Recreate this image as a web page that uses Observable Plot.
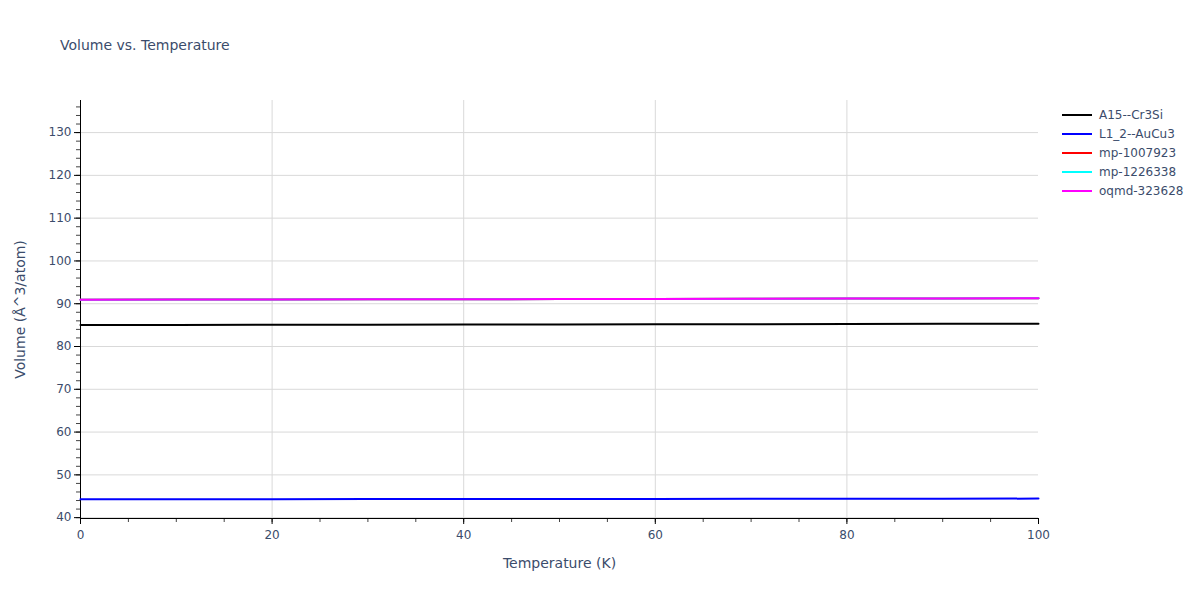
<!DOCTYPE html>
<html><head><meta charset="utf-8">
<script src="https://cdn.jsdelivr.net/npm/d3@7"></script>
<script src="https://cdn.jsdelivr.net/npm/@observablehq/plot@0.6"></script>
<style>
body{margin:0;background:#fff;font-family:"DejaVu Sans",verdana,arial,sans-serif;}
#wrap{position:relative;width:1200px;height:600px;}
#title{position:absolute;left:60px;top:37px;font-size:14px;color:#3b4c6b;}
#legend{position:absolute;left:1062px;top:105px;font-size:12px;color:#3b4c6b;}
.li{height:19px;display:flex;align-items:center;}
.sw{width:30px;height:2px;margin-right:7px;}
</style></head><body>
<div id="wrap"><div id="title">Volume vs. Temperature</div><div id="legend"></div><div id="chart"></div></div>
<script>
const temps = [0,10,20,30,40,50,60,70,80,90,100];
const seriesNames = ["A15--Cr3Si","L1_2--AuCu3","mp-1007923","mp-1226338","oqmd-323628"];
const seriesColors = ["#000000","#0000ff","#ff0000","#00ffff","#ff00ff"];
const a15 = [85.02,85.04,85.07,85.1,85.13,85.16,85.19,85.22,85.26,85.3,85.34];
const l12 = [44.30,44.31,44.32,44.33,44.35,44.36,44.38,44.39,44.41,44.43,44.45];
const mp1007923 = [90.95,90.97,91.0,91.03,91.06,91.09,91.12,91.16,91.2,91.24,91.28];
const mp1226338 = [90.95,90.97,91.0,91.03,91.06,91.09,91.12,91.16,91.2,91.24,91.28];
const oqmd = [90.95,90.97,91.0,91.03,91.06,91.09,91.12,91.16,91.2,91.24,91.28];
const yMajor = [40,50,60,70,80,90,100,110,120,130];
const yMinor = d3.range(40,138,2);
const xMajor = [0,20,40,60,80,100];
const xMinor = d3.range(0,101,5);

const all = [a15,l12,mp1007923,mp1226338,oqmd];
const rows = [];
all.forEach((vals,i)=>vals.forEach((v,j)=>rows.push({T:temps[j],V:v,s:seriesNames[i]})));

const tc = "#3b4c6b";
const plot = Plot.plot({
  width:1200, height:600,
  marginLeft:80, marginRight:162, marginTop:100, marginBottom:82,
  style:{fontFamily:'"DejaVu Sans",verdana,arial,sans-serif', fontSize:"12px", color:tc, background:"#fff"},
  x:{domain:[0,100], label:null},
  y:{domain:[39.8,137.5], label:null},
  color:{domain:seriesNames, range:seriesColors},
  marks:[
    Plot.ruleX(xMajor.filter(d=>d>0&&d<100),{stroke:"#d9d9d9",strokeWidth:1}),
    Plot.ruleY(yMajor,{stroke:"#d9d9d9",strokeWidth:1}),
    Plot.axisY(yMinor,{tickSize:4,tickPadding:0,text:null,label:null,stroke:"#444",strokeOpacity:1}),
    Plot.axisY(yMajor,{tickSize:6,tickPadding:3,stroke:"#000",strokeOpacity:1,fill:tc,fontSize:12,label:null}),
    Plot.axisX(xMinor,{tickSize:4,text:null,label:null,stroke:"#444",strokeOpacity:1}),
    Plot.axisX(xMajor,{tickSize:6,tickPadding:6,stroke:"#000",strokeOpacity:1,fill:tc,fontSize:12,label:null}),
    Plot.ruleX([0],{stroke:"#000",strokeWidth:1}),
    Plot.ruleY([39.8],{stroke:"#000",strokeWidth:1}),
    Plot.lineY(rows,{x:"T",y:"V",z:"s",stroke:"s",strokeWidth:2}),
    Plot.text(["Temperature (K)"],{frameAnchor:"bottom",dy:49,fontSize:14,fill:tc}),
    Plot.text(["Volume (Å^3/atom)"],{frameAnchor:"left",dx:-60,rotate:-90,textAnchor:"middle",fontSize:14,fill:tc})
  ]
});
document.getElementById("chart").appendChild(plot);
const lg = document.getElementById("legend");
seriesNames.forEach((n,i)=>{
  const d=document.createElement("div");d.className="li";
  d.innerHTML=`<span class="sw" style="background:${seriesColors[i]}"></span><span>${n}</span>`;
  lg.appendChild(d);
});
</script></body></html>
